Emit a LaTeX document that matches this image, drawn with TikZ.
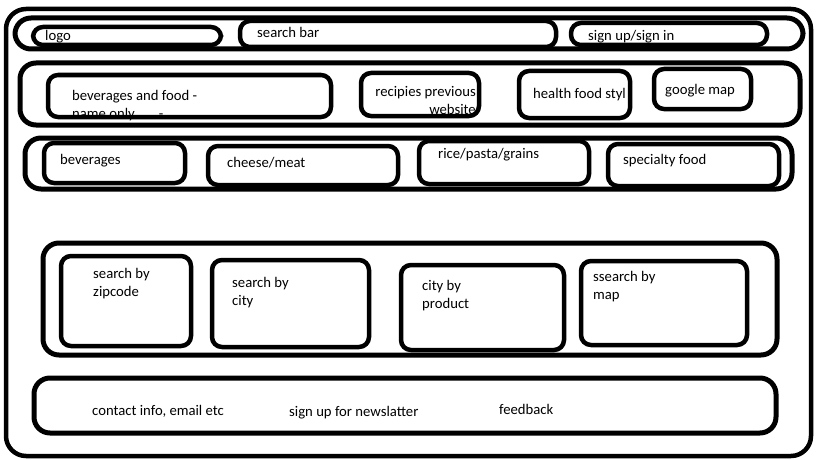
\documentclass[tikz,border=0pt]{standalone}
\usepackage{fontspec}
\setmainfont{Carlito}
\tikzset{
  sketch/.style={x=1pt,y=-1pt},
  frame/.style={line width=4.5pt,rounded corners=20pt},
  band/.style={line width=5pt,rounded corners=16pt},
  box/.style={line width=4.5pt,rounded corners=10pt},
  lbl/.style={anchor=base west,inner sep=0pt,align=left,font=\fontsize{14.7}{17.5}\selectfont},
}

\begin{document}
\begin{tikzpicture}[sketch]
    \useasboundingbox (0,0) rectangle (819,460);
    \draw[frame] (6,9) rectangle (811,456);
    % header
    \draw[band] (15,18) rectangle (803,49);
    \draw[box] (33,27) rectangle (221,45);
    \draw[box] (240,21) rectangle (556,47);
    \draw[box] (571,23) rectangle (767,45);
    \node[lbl] (logo) at (45,41) {logo};
    \node[lbl] (search) at (257,38) {search bar};
    \node[lbl] (signup) at (588,41) {sign up/sign in};
    % nav (two-line labels sit on their last baseline)
    \draw[band] (20,63) rectangle (800,125);
    \draw[box] (48,75) rectangle (331,117);
    \draw[box] (361,73) rectangle (479,116);
    \draw[box] (519,71) rectangle (630,118);
    \draw[box] (654,69) rectangle (751,109);
    \node[lbl] (food) at (72,118) {beverages and food -\\name only.......-};
    \node[lbl,anchor=base east,align=right] (recipes) at (476,114) {recipies previous\\website};
    \node[lbl] (health) at (533,99) {health food styl};
    \node[lbl] (gmap) at (665,94) {google map};
    % categories
    \draw[band] (25,138) rectangle (792,189);
    \draw[box] (44,143) rectangle (185,183);
    \draw[box] (208,146) rectangle (398,185);
    \draw[box] (419,141) rectangle (589,184);
    \draw[box] (608,144) rectangle (779,186);
    \node[lbl] (bev) at (60,164) {beverages};
    \node[lbl] (cheese) at (227,167) {cheese/meat};
    \node[lbl] (grains) at (438,158) {rice/pasta/grains};
    \node[lbl] (special) at (623,164) {specialty food};
    % search options
    \draw[band] (43,243) rectangle (777,355);
    \draw[box] (61,256) rectangle (191,346);
    \draw[box] (212,260) rectangle (369,347);
    \draw[box] (401,265) rectangle (564,350);
    \draw[box] (581,261) rectangle (747,345);
    \node[lbl] (zip) at (93,296) {search by\\zipcode};
    \node[lbl] (city) at (232,305) {search by\\city};
    \node[lbl] (product) at (422,308) {city by\\product};
    \node[lbl] (map) at (593,299) {ssearch by\\map};
    % footer
    \draw[band] (34,378) rectangle (776,433);
    \node[lbl] (contact) at (92,415) {contact info, email etc};
    \node[lbl] (news) at (289,416) {sign up for newslatter};
    \node[lbl] (feedback) at (499,414) {feedback};
\end{tikzpicture}
\end{document}
